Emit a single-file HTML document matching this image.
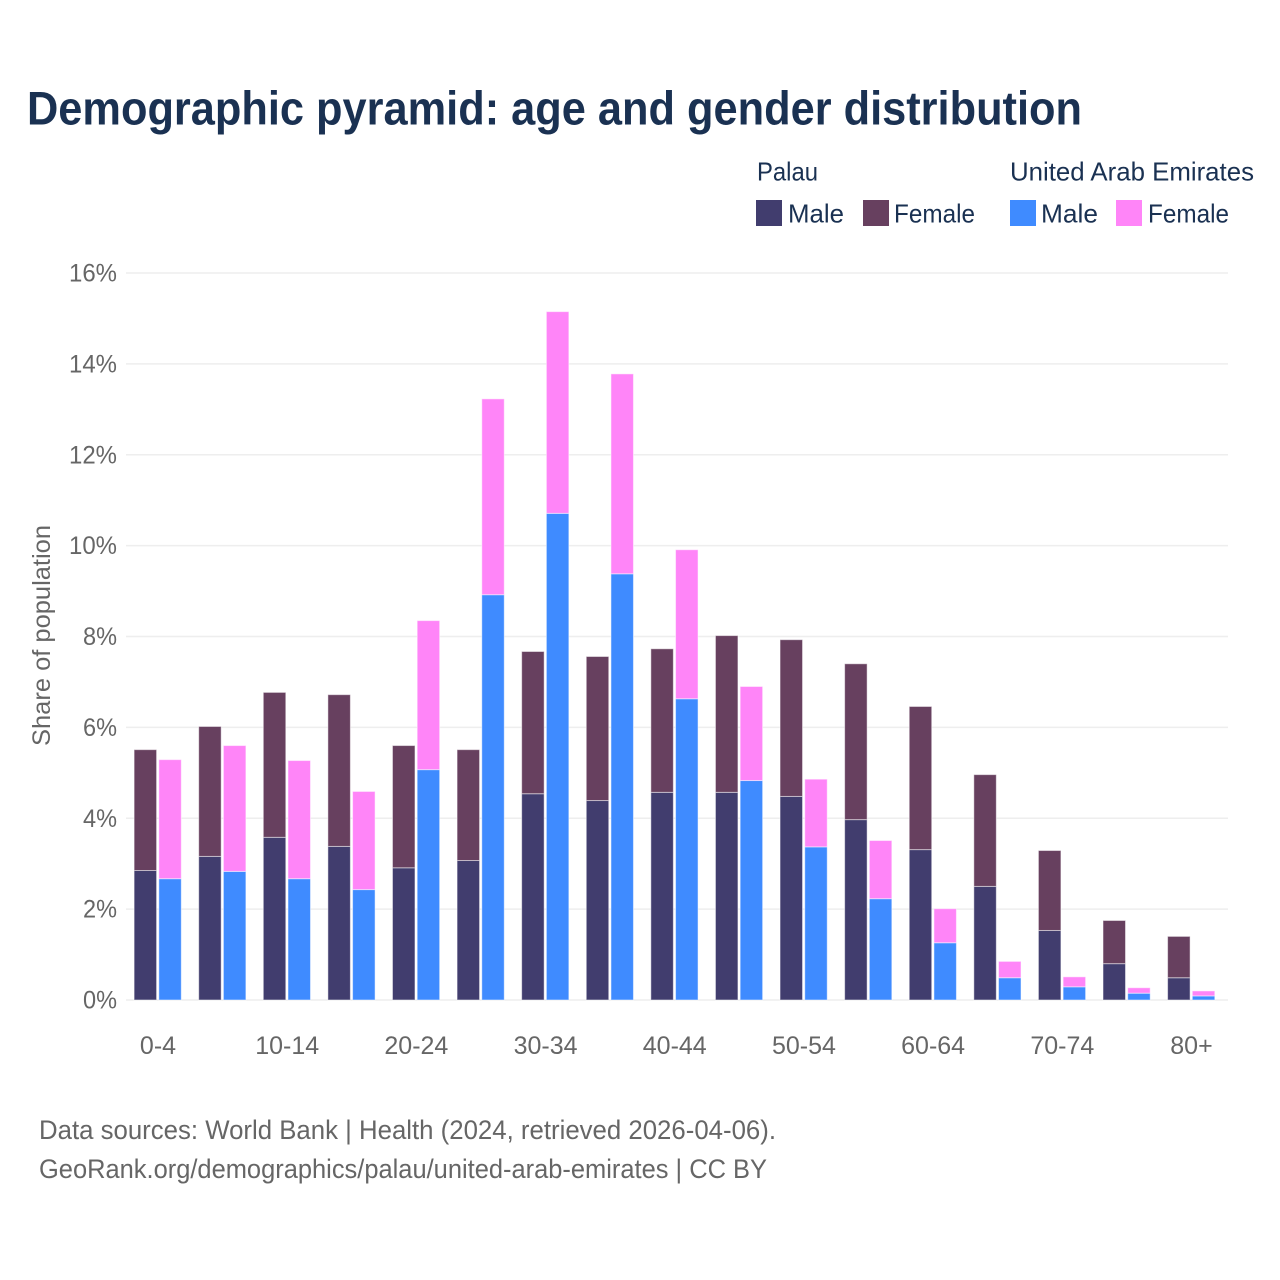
<!DOCTYPE html>
<html lang="en">
<head>
<meta charset="utf-8">
<title>Demographic pyramid: age and gender distribution</title>
<style>
  html, body { margin: 0; padding: 0; background: #fff; }
  svg { display: block; font-family: "Liberation Sans", sans-serif; }
  .legend-text { fill: #1a3152; font-size: 26px; }
  .tick { fill: #666; font-size: 25px; }
  .foot { fill: #666; font-size: 27px; }
</style>
</head>
<body>
<svg id="chart" width="1280" height="1280" viewBox="0 0 1280 1280" xmlns="http://www.w3.org/2000/svg">
  <rect x="0" y="0" width="1280" height="1280" fill="#fff"></rect>
  <text x="27" y="124.500" font-size="47" font-weight="700" fill="#1a3152" textLength="1055" lengthAdjust="spacingAndGlyphs">Demographic pyramid: age and gender distribution</text>

  <g>
    <text class="legend-text" x="757" y="180.500" textLength="61" lengthAdjust="spacingAndGlyphs">Palau</text>
    <text class="legend-text" x="1010" y="180.500" textLength="244" lengthAdjust="spacingAndGlyphs">United Arab Emirates</text>
    <rect x="756" y="200" width="26" height="26" fill="#413d6e"></rect>
    <text class="legend-text" x="788" y="222.500" textLength="56" lengthAdjust="spacingAndGlyphs">Male</text>
    <rect x="863" y="200" width="26" height="26" fill="#67405f"></rect>
    <text class="legend-text" x="894" y="222.500" textLength="81" lengthAdjust="spacingAndGlyphs">Female</text>
    <rect x="1010" y="200" width="26" height="26" fill="#3f8bff"></rect>
    <text class="legend-text" x="1041" y="222.500" textLength="57" lengthAdjust="spacingAndGlyphs">Male</text>
    <rect x="1116" y="200" width="26" height="26" fill="#ff85f8"></rect>
    <text class="legend-text" x="1148" y="222.500" textLength="81" lengthAdjust="spacingAndGlyphs">Female</text>
  </g>

  <g id="grid"></g>
  <g id="bars"></g>
  <g id="yticks"></g>
  <g id="xticks"></g>

  <text class="tick" x="0" y="0" transform="translate(50 635.5) rotate(-90)" text-anchor="middle" textLength="221" lengthAdjust="spacingAndGlyphs">Share of population</text>

  <text class="foot" x="39" y="1139" textLength="737" lengthAdjust="spacingAndGlyphs">Data sources: World Bank | Health (2024, retrieved 2026-04-06).</text>
  <text class="foot" x="39" y="1178" textLength="728" lengthAdjust="spacingAndGlyphs">GeoRank.org/demographics/palau/united-arab-emirates | CC BY</text>
</svg>
<script>
const categories = ["0-4","5-9","10-14","15-19","20-24","25-29","30-34","35-39","40-44","45-49","50-54","55-59","60-64","65-69","70-74","75-79","80+"];
const palauMale = [2.85,3.16,3.58,3.38,2.91,3.07,4.54,4.39,4.57,4.57,4.48,3.97,3.31,2.50,1.53,0.80,0.49];
const palauFemale = [2.66,2.86,3.19,3.34,2.69,2.44,3.13,3.17,3.16,3.45,3.45,3.43,3.15,2.46,1.76,0.95,0.91];
const uaeMale = [2.67,2.83,2.67,2.43,5.07,8.92,10.71,9.38,6.63,4.83,3.37,2.23,1.26,0.49,0.29,0.15,0.09];
const uaeFemale = [2.62,2.77,2.60,2.16,3.28,4.31,4.44,4.40,3.28,2.07,1.49,1.28,0.75,0.36,0.22,0.12,0.11];
const yTicks = [0,2,4,6,8,10,12,14,16];
const xTickLabels = ["0-4","10-14","20-24","30-34","40-44","50-54","60-64","70-74","80+"];

const NS = "http://www.w3.org/2000/svg";
const yScale = v => 1000 - v * (727 / 16);
const xCenter = i => 158 + i * ((1191.5 - 158) / (categories.length - 1));
const gridG = document.getElementById("grid");
const barsG = document.getElementById("bars");
const yG = document.getElementById("yticks");
const xG = document.getElementById("xticks");

yTicks.forEach(t => {
  const line = document.createElementNS(NS, "line");
  line.setAttribute("x1", 126);
  line.setAttribute("x2", 1228);
  line.setAttribute("y1", yScale(t));
  line.setAttribute("y2", yScale(t));
  line.setAttribute("stroke", "#eeeeee");
  line.setAttribute("stroke-width", 1.6);
  
  
  gridG.appendChild(line);

  const label = document.createElementNS(NS, "text");
  label.setAttribute("x", 117);
  label.setAttribute("y", yScale(t) + 8.5);
  label.setAttribute("text-anchor", "end");
  label.setAttribute("class", "tick");
  label.setAttribute("textLength", String(t).length === 2 ? 48 : 34);
  label.setAttribute("lengthAdjust", "spacingAndGlyphs");
  label.textContent = t + "%";
  
  
  yG.appendChild(label);
});

function drawBar(i, offset, base, value, fill) {
  const rect = document.createElementNS(NS, "rect");
  const top = yScale(base + value);
  rect.setAttribute("x", xCenter(i) + offset);
  rect.setAttribute("y", top);
  rect.setAttribute("width", 22.5);
  rect.setAttribute("height", yScale(base) - top);
  rect.setAttribute("fill", fill);
  rect.setAttribute("stroke", "rgba(255,255,255,0.5)");
  rect.setAttribute("stroke-width", 1);
  
  
  barsG.appendChild(rect);
}

categories.forEach((c, i) => {
  drawBar(i, -23.9, 0, palauMale[i], "#413d6e");
  drawBar(i, -23.9, palauMale[i], palauFemale[i], "#67405f");
  drawBar(i, 0.8, 0, uaeMale[i], "#3f8bff");
  drawBar(i, 0.8, uaeMale[i], uaeFemale[i], "#ff85f8");
});

xTickLabels.forEach(name => {
  const label = document.createElementNS(NS, "text");
  label.setAttribute("x", xCenter(categories.indexOf(name)));
  label.setAttribute("y", 1054);
  label.setAttribute("text-anchor", "middle");
  label.setAttribute("class", "tick");
  label.textContent = name;
  
  
  xG.appendChild(label);
});
</script>
</body>
</html>
